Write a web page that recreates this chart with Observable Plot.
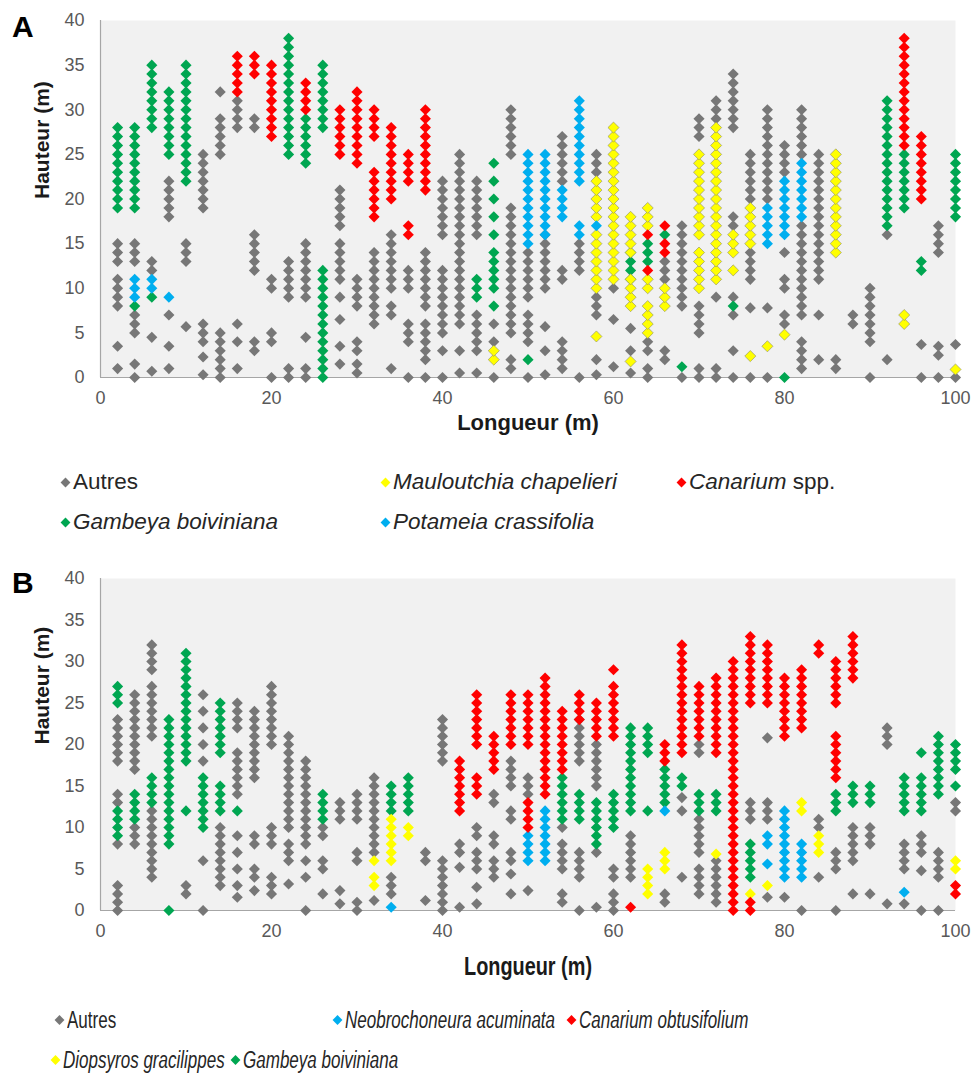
<!DOCTYPE html>
<html>
<head>
<meta charset="utf-8">
<script src="https://cdn.jsdelivr.net/npm/d3@7"></script>
<script src="https://cdn.jsdelivr.net/npm/@observablehq/plot@0.6"></script>
<style>
  body { margin: 0; background: #ffffff; }
  #page { position: relative; width: 971px; height: 1077px; overflow: hidden; font-family: "Liberation Sans", Arial, sans-serif; }
  .panel { position: absolute; left: 0; }
  .tag { position: absolute; left: 12px; font: bold 30px "Liberation Sans", Arial, sans-serif; color: #000; line-height: 1; }
  .legend { position: absolute; left: 0; width: 971px; color: #262626; }
  .item { position: absolute; white-space: nowrap; display: flex; align-items: center; transform: translateY(-50%); }
  .sw { display: inline-block; width: 7px; height: 7px; transform: rotate(45deg); margin-right: 4px; flex: none; }
  .narrow .txt { display: inline-block; transform: scaleX(0.74); transform-origin: left center; }
</style>
</head>
<body>
<div id="page"></div>
<script>
// Tick values shared by both panels
const xTicks = [0, 20, 40, 60, 80, 100];
const yTicks = [0, 5, 10, 15, 20, 25, 30, 35, 40];

// Each entry is one stem: [distance (m), lowest height, highest height] with a
// diamond every metre between the two; [distance, height] is a single diamond.

// ---- Plot A ----
const autresA = [
  [2,13,15],[2,8,11],[2,3.5],[2,1],
  [4,13,15],[4,5,7],[4,1.5],[4,0],
  [6,12,13],[6,4.5],[6,0.7],
  [8,18,22],[8,7],[8,3.5],[8,1],
  [10,13,15],[10,5.7],
  [12,19,25],[12,4,6],[12,2.3],[12,0.3],
  [14,32],[14,25,29],[14,0,5],
  [16,28,31],[16,6],[16,4],[16,1],
  [18,28,29],[18,12,16],[18,3,4],
  [20,10,11],[20,4,5],[20,0],
  [22,9,13],[22,0,1],
  [24,9,15],[24,4.5],[24,0,1],
  [28,17,21],[28,11,15],[28,9],[28,6.5],[28,3.5],[28,1.5],
  [30,8,11],[30,3,4],[30,0.5,1.5],
  [32,6,14],
  [34,10,16],[34,7,8],[34,1],
  [36,10,12],[36,4,6],[36,0],
  [38,11,14],[38,8,10],[38,4,6],[38,2,3],[38,0],
  [40,16,22],[40,5,12],[40,3],[40,0],
  [42,6,25],[42,3],[42,0.5],
  [44,16,22],[44,3,7],[44,0.5],
  [46,6],[46,4],[46,0],
  [48,25,30],[48,8,19],[48,5,7],[48,1,2],
  [50,9,14],[50,4,7],[50,0],
  [52,10,16],[52,5.7],[52,3],[52,0.3],
  [54,22,27],[54,11,12],[54,1,4],
  [56,12,15],[56,0],
  [58,23,25],[58,7,9],[58,2],[58,0.3],
  [60,10],[60,6.5],[60,1.2],
  [62,5.5],[62,3],[62,0.5],
  [64,3,4],[64,0,1],
  [66,11,13],[66,2,3],
  [68,8,17],[68,0],
  [70,27,29],[70,5,8],[70,0,1],
  [72,29,31],[72,9],[72,0,1],
  [74,28,34],[74,17,18],[74,9],[74,7],[74,3],[74,0],
  [76,20,25],[76,11,14],[76,7.8],[76,0],
  [78,20,30],[78,7.8],[78,0],
  [80,23,26],[80,14],[80,10,11],[80,6,7],
  [82,25,30],[82,7,17],[82,1,4],
  [84,11,25],[84,7],[84,2],
  [86,1,2],
  [88,6,7],
  [90,4,10],[90,0],
  [92,16],[92,2],
  [96,3.7],[96,0],
  [98,14,17],[98,2.5,3.5],[98,0],
  [100,3.7],[100,0]
];
const mauloutchiaA = [
  [46,2,3],
  [58,18,22],[58,10,16],[58,4.6],
  [60,11,28],
  [62,14,18],[62,8,11],[62,1.8],
  [64,17,19],[64,10,11],[64,5,8],
  [66,8,10],
  [70,16,25],[70,10,14],
  [72,11,28],
  [74,14,16],[74,12],
  [76,15,19],[76,2.4],
  [78,3.5],
  [80,4.8],
  [86,14,25],
  [94,6,7],
  [100,0.9]
];
const canariumA = [
  [16,32,36],[18,34,36],[20,27,35],[24,30,33],[28,25,30],[30,24,32],
  [32,27,30],[32,18,23],[34,20,28],[36,22,25],[36,16,17],[38,21,30],
  [64,16],[64,12],[66,17],[66,14,15],
  [94,26,38],[96,20,27]
];
const gambeyaA = [
  [2,19,28],[4,19,28],[4,8],[6,28,35],[6,9],[8,25,32],[10,22,35],
  [22,25,38],[24,24,29],[26,28,35],[26,0,12],
  [44,9,11],
  [46,24],[46,22],[46,20],[46,18],[46,16],[46,14],[46,10,13],[46,8],
  [50,2],[62,11,14],[64,13,15],[66,16],[68,1.2],[74,8],[80,0],
  [92,17,31],[94,19,25],[96,12,13],[100,18,25]
];
const potameiaA = [
  [4,9,11],[6,10,11],[8,9],
  [50,15,25],[52,16,25],[54,18,21],[56,22,31],[56,16,17],[58,17],
  [78,15,19],[80,16,22],[82,18,24]
];

// ---- Plot B ----
const autresB = [
  [2,18,23],[2,13,14],[2,8],[2,0,3],
  [4,17,26],[4,8,10],
  [6,29,32],[6,21,27],[6,4,12],
  [10,2,3],
  [12,26],[12,24],[12,22],[12,20],[12,18],[12,6],[12,0],
  [14,3,10],
  [16,22,25],[16,14,19],[16,9],[16,7],[16,5],[16,3],[16,1.6],
  [18,16,24],[18,8,9],[18,4,5],[18,2.4],
  [20,20,27],[20,8,10],[20,2,4],
  [22,10,21],[22,6,8],[22,3.2],
  [24,8,18],[24,6],[24,4],[24,0],
  [26,9,10],[26,5,6],[26,2],
  [28,11,13],[28,2.4],[28,0.8],
  [30,11,14],[30,6,7],[30,0,1],
  [32,7,16],[32,1.2],
  [34,2,4],
  [38,6,7],[38,1.2],
  [40,18,23],[40,0,6],
  [42,7,8],[42,5.2],[42,0.4],
  [44,9,10],[44,5,7],[44,2.8],[44,0.8],
  [46,13,14],[46,8,9],[46,4,6],
  [48,15,18],[48,11,12],[48,6,7],[48,4.4],[48,2],
  [50,14,16],[50,2.4],
  [54,10],[54,5,8],[54,1,2],
  [56,18,23],[56,4,7],[56,0],
  [58,15,20],[58,7],[58,0.4],
  [60,4,5],[60,0,2],
  [62,4,9],
  [66,1,2],
  [68,13.6],[68,12],[68,4],
  [70,19,20],[70,7,11],[70,2,5],
  [72,1,6],
  [76,11,13],
  [78,20.8],[78,11,13],[78,1.6],
  [80,1.6],
  [82,0],
  [84,10,11],[84,4],
  [86,5,7],[86,0],
  [88,6,10],[88,2],
  [90,8,10],[90,2],
  [92,20,22],[92,0.8],
  [94,5,8],[94,0.8],
  [96,7,9],[96,4.8],[96,0],
  [98,4,7],[98,0],
  [100,12,13]
];
const neobrochoneuraB = [
  [34,0.4],[50,6,9],[52,6,12],[66,12],[78,8,9],[78,5.6],[80,4,12],[82,4,8],[94,2.2]
];
const canariumB = [
  [42,12,18],[44,20,26],[44,14,16],[46,17,21],[48,20,26],[50,20,26],[50,10,13],
  [52,14,28],[54,17,24],[56,23,26],[58,21,25],[60,29],[60,21,27],[62,0.4],
  [66,18,20],[68,19,32],[70,21,27],[72,19,28],[74,0,30],[76,25,33],[76,0,1],
  [78,25,32],[80,21,28],[82,22,29],[84,31,32],[86,25,30],[86,16,21],[88,28,33],
  [100,2,3]
];
const diospyrosB = [
  [32,6],[32,3,4],[34,6,11],[36,9,10],[64,2,5],[66,5,7],[72,6.8],[76,2],[78,3],
  [82,12,13],[84,7,9],[100,5,6]
];
const gambeyaB = [
  [2,25,27],[2,9,12],[4,11,14],[6,13,16],[8,8,23],[8,0],[10,18,31],[10,12],
  [12,10,16],[14,19,25],[14,12,15],[16,12],[26,11,14],[34,12,15],[36,12,16],
  [54,11,16],[56,11,14],[58,8,13],[60,10,14],[62,12,22],[64,19,22],[64,12],
  [66,13,17],[68,15,16],[70,12,14],[72,12,14],[76,4,8],[86,12,14],[88,13,15],
  [90,13,15],[94,12,16],[96,19],[96,12,16],[98,14,21],[100,17,20],[100,15]
];

// Series names (legend order) and colours
const namesA = ["Autres", "Mauloutchia chapelieri", "Canarium spp.", "Gambeya boiviniana", "Potameia crassifolia"];
const colorsA = ["#777777", "#ffff00", "#ff0000", "#00a651", "#00aeef"];
const namesB = ["Autres", "Neobrochoneura acuminata", "Canarium obtusifolium", "Diopsyros gracilippes", "Gambeya boiviniana"];
const colorsB = ["#777777", "#00aeef", "#ff0000", "#ffff00", "#00a651"];

// Expand stems into one diamond per metre
function stems(runs, species) {
  return runs.flatMap(([x, lo, hi = lo]) => d3.range(lo, hi + 0.5, 1).map(y => ({x, y, species})));
}

const sansFont = '"Liberation Sans", Arial, sans-serif';

function panel({series, names, colors, yellowStroke, height, marginTop, marginBottom, titleSize, titleDy, titleWidth}) {
  const pts = series.flatMap(([runs, name]) => stems(runs, name));
  const svg = Plot.plot({
    width: 971,
    height,
    marginLeft: 100,
    marginRight: 16,
    marginTop,
    marginBottom,
    style: {fontFamily: sansFont, fontSize: "18px", color: "#595959", background: "transparent", overflow: "visible"},
    x: {domain: [0, 100], ticks: xTicks, tickSize: 0, tickPadding: 14, label: null},
    y: {domain: [0, 40], ticks: yTicks, tickSize: 0, tickPadding: 16, label: null},
    color: {domain: names, range: colors},
    marks: [
      Plot.frame({fill: "#f1f1f1", stroke: null}),
      Plot.ruleY([0], {stroke: "#a6a6a6", strokeWidth: 1.2}),
      Plot.ruleX([0], {stroke: "#a6a6a6", strokeWidth: 1.2}),
      Plot.dot(pts, {
        x: "x", y: "y", symbol: "diamond2", r: 5,
        fill: "species",
        stroke: d => (yellowStroke && d.species === yellowStroke) ? "#8a8a6a" : "none",
        strokeWidth: 0.6
      }),
      Plot.text(["Longueur (m)"], {frameAnchor: "bottom", dy: titleDy, fontFamily: sansFont, fontSize: titleSize, fontWeight: "bold", fill: "#1a1a1a", className: "xtitle"}),
      Plot.text(["Hauteur (m)"], {frameAnchor: "left", dx: -58, rotate: -90, fontFamily: sansFont, fontSize: 21, fontWeight: "bold", fill: "#1a1a1a"})
    ]
  });
  // Condensed title: squeeze the glyphs to the requested width
  if (titleWidth) {
    d3.select(svg).selectAll(".xtitle text")
      .attr("textLength", titleWidth)
      .attr("lengthAdjust", "spacingAndGlyphs");
  }
  return svg;
}

// Legend labels: genus/species names are italic, "spp." stays upright
function labelHTML(name) {
  if (name === "Autres") return name;
  if (name.endsWith(" spp.")) return `<i>${name.slice(0, -5)}</i> spp.`;
  return `<i>${name}</i>`;
}

function legend({names, colors, slots, top, fontSize, narrow}) {
  const div = document.createElement("div");
  div.className = "legend" + (narrow ? " narrow" : "");
  div.style.top = top + "px";
  div.style.fontSize = fontSize + "px";
  names.forEach((name, i) => {
    const [left, y] = slots[i];
    const item = document.createElement("div");
    item.className = "item";
    item.style.left = left + "px";
    item.style.top = y + "px";
    item.innerHTML = `<span class="sw" style="background:${colors[i]}"></span><span class="txt">${labelHTML(name)}</span>`;
    div.appendChild(item);
  });
  return div;
}

const page = document.getElementById("page");

const chartA = panel({
  series: [[autresA, namesA[0]], [gambeyaA, namesA[3]], [mauloutchiaA, namesA[1]], [potameiaA, namesA[4]], [canariumA, namesA[2]]],
  names: namesA, colors: colorsA, yellowStroke: namesA[1],
  height: 445, marginTop: 20, marginBottom: 68,
  titleSize: 22, titleDy: 52
});
chartA.classList.add("panel");
chartA.style.top = "0px";
page.appendChild(chartA);

const chartB = panel({
  series: [[autresB, namesB[0]], [gambeyaB, namesB[4]], [diospyrosB, namesB[3]], [neobrochoneuraB, namesB[1]], [canariumB, namesB[2]]],
  names: namesB, colors: colorsB, yellowStroke: null,
  height: 440, marginTop: 28, marginBottom: 80,
  titleSize: 25, titleDy: 64, titleWidth: 128
});
chartB.classList.add("panel");
chartB.style.top = "550px";
page.appendChild(chartB);

page.appendChild(legend({names: namesA, colors: colorsA, top: 445, fontSize: 22.5,
  slots: [[62, 37], [382, 37], [678, 37], [62, 77], [382, 77]]}));
page.appendChild(legend({names: namesB, colors: colorsB, top: 990, fontSize: 23, narrow: true,
  slots: [[56, 30], [334, 30], [568, 30], [52, 70], [232, 70]]}));

for (const [t, y] of [["A", 12], ["B", 568]]) {
  const el = document.createElement("div");
  el.className = "tag";
  el.style.top = y + "px";
  el.textContent = t;
  page.appendChild(el);
}
</script>
</body>
</html>
